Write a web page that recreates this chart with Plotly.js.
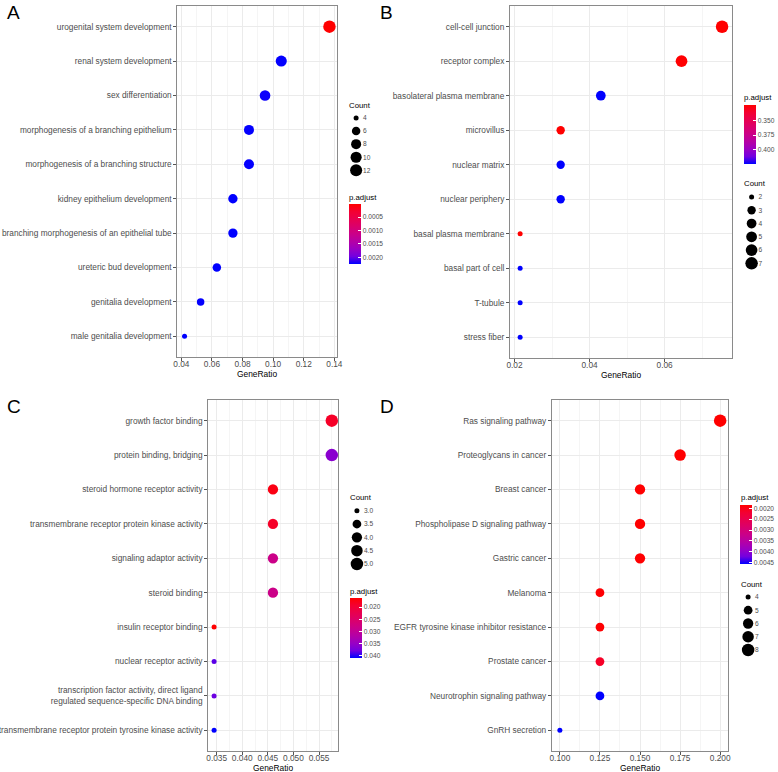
<!DOCTYPE html>
<html>
<head>
<meta charset="utf-8">
<script src="https://cdn.plot.ly/plotly-3.0.1.min.js"></script>
<style>html,body{margin:0;padding:0;background:#fff}</style>
</head>
<body>
<div id="plotArea" style="width:778px;height:772px"></div>
<script>
// A - biological process
var termsA = ['urogenital system development', 'renal system development', 'sex differentiation',
  'morphogenesis of a branching epithelium', 'morphogenesis of a branching structure',
  'kidney epithelium development', 'branching morphogenesis of an epithelial tube',
  'ureteric bud development', 'genitalia development', 'male genitalia development'];
var ratioA = [0.1368, 0.1053, 0.0947, 0.0842, 0.0842, 0.0737, 0.0737, 0.0632, 0.0526, 0.0421];
var countA = [13, 10, 9, 8, 8, 7, 7, 6, 5, 4];
var padjA = [0.00001, 0.00224, 0.00222, 0.00224, 0.00224, 0.00225, 0.00225, 0.00225, 0.00224, 0.00225];
var countTicksA = [4, 6, 8, 10, 12];
var padjTicksA = [0.0005, 0.0010, 0.0015, 0.0020];
var padjLabelsA = ['0.0005', '0.0010', '0.0015', '0.0020'];

// B - cellular component
var termsB = ['cell-cell junction', 'receptor complex', 'basolateral plasma membrane', 'microvillus',
  'nuclear matrix', 'nuclear periphery', 'basal plasma membrane', 'basal part of cell',
  'T-tubule', 'stress fiber'];
var ratioB = [0.0753, 0.0645, 0.0430, 0.0323, 0.0323, 0.0323, 0.0215, 0.0215, 0.0215, 0.0215];
var countB = [7, 6, 4, 3, 3, 3, 2, 2, 2, 2];
var padjB = [0.3245, 0.3250, 0.4248, 0.3246, 0.4248, 0.4248, 0.3245, 0.4248, 0.4248, 0.4248];
var countTicksB = [2, 3, 4, 5, 6, 7];
var padjTicksB = [0.350, 0.375, 0.400];
var padjLabelsB = ['0.350', '0.375', '0.400'];

// C - molecular function
var termsC = ['growth factor binding', 'protein binding, bridging', 'steroid hormone receptor activity',
  'transmembrane receptor protein kinase activity', 'signaling adaptor activity', 'steroid binding',
  'insulin receptor binding', 'nuclear receptor activity',
  'transcription factor activity, direct ligand<br>regulated sequence-specific DNA binding',
  'transmembrane receptor protein tyrosine kinase activity'];
var ratioC = [0.0575, 0.0575, 0.0460, 0.0460, 0.0460, 0.0460, 0.0345, 0.0345, 0.0345, 0.0345];
var countC = [5, 5, 4, 4, 4, 4, 3, 3, 3, 3];
var padjC = [0.0188, 0.0360, 0.0175, 0.0188, 0.0285, 0.0285, 0.0163, 0.0385, 0.0380, 0.0409];
var countTicksC = ['3.0', '3.5', '4.0', '4.5', '5.0'];
var padjTicksC = [0.020, 0.025, 0.030, 0.035, 0.040];
var padjLabelsC = ['0.020', '0.025', '0.030', '0.035', '0.040'];

// D - KEGG
var termsD = ['Ras signaling pathway', 'Proteoglycans in cancer', 'Breast cancer',
  'Phospholipase D signaling pathway', 'Gastric cancer', 'Melanoma',
  'EGFR tyrosine kinase inhibitor resistance', 'Prostate cancer',
  'Neurotrophin signaling pathway', 'GnRH secretion'];
var ratioD = [0.200, 0.175, 0.150, 0.150, 0.150, 0.125, 0.125, 0.125, 0.125, 0.100];
var countD = [8, 7, 6, 6, 6, 5, 5, 5, 5, 4];
var padjD = [0.00186, 0.00187, 0.00187, 0.00187, 0.00187, 0.00188, 0.00188, 0.00213, 0.00458, 0.00458];
var countTicksD = [4, 5, 6, 7, 8];
var padjTicksD = [0.0020, 0.0025, 0.0030, 0.0035, 0.0040, 0.0045];
var padjLabelsD = ['0.0020', '0.0025', '0.0030', '0.0035', '0.0040', '0.0045'];

// red -> blue, roughly the Lab blend ggplot uses (values are negated so red sits on top)
var padjScale = [[0, 'rgb(0,0,255)'], [0.125, 'rgb(115,0,224)'], [0.25, 'rgb(154,0,195)'],
  [0.375, 'rgb(181,0,165)'], [0.5, 'rgb(202,0,137)'], [0.625, 'rgb(218,0,108)'],
  [0.75, 'rgb(232,0,79)'], [0.875, 'rgb(244,0,49)'], [1, 'rgb(255,0,0)']];

var W = 778, H = 772;
function px(x) { return x / W; }
function py(y) { return 1 - y / H; }

function sizeScale(c, lo, hi) {
  return 5 + 7.5 * Math.sqrt((c - lo) / (hi - lo));
}

var FONT = 'Liberation Sans, Arial, sans-serif';
var traces = [];
var layout = {
  width: W, height: H,
  margin: {l: 0, r: 0, t: 0, b: 0},
  paper_bgcolor: '#fff', plot_bgcolor: '#fff',
  font: {family: FONT, color: '#000'},
  showlegend: false,
  annotations: []
};

function note(text, x, y, size, xanchor, yanchor) {
  layout.annotations.push({text: text, x: px(x), y: py(y), xref: 'paper', yref: 'paper',
    xanchor: xanchor, yanchor: yanchor, showarrow: false, borderpad: 0,
    font: {size: size, color: '#000'}});
}

function addPanel(n, letter, terms, ratio, count, padj, countTicks, padjTicks, padjLabels, opt) {
  var lo = Math.min.apply(null, count), hi = Math.max.apply(null, count);
  var pmin = Math.min.apply(null, padj), pmax = Math.max.apply(null, padj);
  var rmin = Math.min.apply(null, ratio), rmax = Math.max.apply(null, ratio);
  var span = rmax - rmin;
  var s = n == 1 ? '' : String(n);
  var m = String(n + 4);

  traces.push({
    type: 'scatter', mode: 'markers', x: ratio, y: terms,
    xaxis: 'x' + s, yaxis: 'y' + s, hoverinfo: 'skip', cliponaxis: false,
    marker: {
      size: count.map(function(c) { return sizeScale(c, lo, hi); }),
      color: padj.map(function(p) { return -p; }),
      cmin: -pmax, cmax: -pmin, colorscale: padjScale,
      line: {width: 0}, opacity: 1, showscale: true,
      colorbar: {
        x: px(opt.bar[0]), xanchor: 'left', y: py(opt.bar[1]), yanchor: 'top',
        len: opt.bar[2] - opt.bar[1], lenmode: 'pixels', thickness: 12, thicknessmode: 'pixels',
        xpad: 0, ypad: 0, outlinewidth: 0,
        tickvals: padjTicks.map(function(v) { return -v; }), ticktext: padjLabels,
        ticks: 'inside', ticklen: 3, tickcolor: '#fff', tickwidth: 1,
        tickfont: {size: 6.6, color: '#4d4d4d', family: FONT}
      }
    }
  });

  // size key
  traces.push({
    type: 'scatter', mode: 'markers',
    x: countTicks.map(function() { return 0; }), y: countTicks.map(String),
    xaxis: 'x' + m, yaxis: 'y' + m, hoverinfo: 'skip', cliponaxis: false,
    marker: {size: countTicks.map(function(c) { return sizeScale(+c, lo, hi); }),
      color: '#000', opacity: 1, line: {width: 0}}
  });

  layout['xaxis' + s] = {
    domain: [px(opt.box[0]), px(opt.box[1])], anchor: 'y' + s,
    range: [rmin - 0.05 * span, rmax + 0.05 * span],
    tick0: 0, dtick: opt.dtick, tickformat: opt.fmt,
    showline: true, mirror: true, linecolor: '#8a8a8a', linewidth: 1,
    ticks: 'outside', ticklen: 3, tickcolor: '#555', tickwidth: 1,
    ticklabelstandoff: -4,
    tickfont: {size: 8.3, color: '#4d4d4d'},
    showgrid: true, gridcolor: '#ebebeb', gridwidth: 1, zeroline: false,
    minor: {dtick: opt.dtick / 2, showgrid: true, gridcolor: '#f5f5f5', gridwidth: 1}
  };
  layout['yaxis' + s] = {
    domain: [py(opt.box[3]), py(opt.box[2])], anchor: 'x' + s,
    type: 'category', categoryorder: 'array', categoryarray: terms,
    range: [terms.length - 0.4, -0.6],
    showline: true, mirror: true, linecolor: '#8a8a8a', linewidth: 1,
    ticks: 'outside', ticklen: 3, tickcolor: '#555', tickwidth: 1,
    tickfont: {size: 8.3, color: '#4d4d4d'},
    showgrid: true, gridcolor: '#ebebeb', gridwidth: 1, zeroline: false
  };

  layout['xaxis' + m] = {
    domain: [px(opt.key[0] - 6), px(opt.key[0] + 6)], anchor: 'y' + m,
    range: [-1, 1], visible: false
  };
  var step = (opt.key[2] - opt.key[1]) / (countTicks.length - 1);
  layout['yaxis' + m] = {
    domain: [py(opt.key[2] + step / 2), py(opt.key[1] - step / 2)], anchor: 'x' + m,
    type: 'category', categoryorder: 'array', categoryarray: countTicks.map(String),
    range: [countTicks.length - 0.5, -0.5], side: 'right',
    showgrid: false, showline: false, zeroline: false, ticks: '',
    tickfont: {size: 6.6, color: '#4d4d4d'}
  };

  note(letter, opt.letter[0], opt.letter[1], 19, 'left', 'top');
  note('GeneRatio', (opt.box[0] + opt.box[1]) / 2, opt.box[3] + 17, 8.4, 'center', 'middle');
  note('Count', opt.countTitle[0], opt.countTitle[1], 7.8, 'left', 'middle');
  note('p.adjust', opt.padjTitle[0], opt.padjTitle[1], 7.8, 'left', 'middle');
}

addPanel(1, 'A', termsA, ratioA, countA, padjA, countTicksA, padjTicksA, padjLabelsA, {
  box: [178, 338, 6, 357], dtick: 0.02, fmt: '.2f',
  bar: [350, 204, 264], key: [357.5, 118, 170.3],
  countTitle: [349, 105], padjTitle: [349, 197], letter: [6, 1]
});
addPanel(2, 'B', termsB, ratioB, countB, padjB, countTicksB, padjTicksB, padjLabelsB, {
  box: [512, 735, 6, 358], dtick: 0.02, fmt: '.2f',
  bar: [747, 105.3, 164.3], key: [754.5, 197, 263.3],
  countTitle: [746, 184], padjTitle: [746, 97.7], letter: [380, 1]
});
addPanel(3, 'C', termsC, ratioC, countC, padjC, countTicksC, padjTicksC, padjLabelsC, {
  box: [209, 339, 400, 751], dtick: 0.005, fmt: '.3f',
  bar: [351, 598, 658], key: [358.3, 510.7, 564],
  countTitle: [350, 498], padjTitle: [350, 591], letter: [6, 395]
});
addPanel(4, 'D', termsD, ratioD, countD, padjD, countTicksD, padjTicksD, padjLabelsD, {
  box: [554, 731, 400, 751], dtick: 0.025, fmt: '.3f',
  bar: [743.3, 505.3, 564.7], key: [751, 597, 650],
  countTitle: [742.5, 584], padjTitle: [742.5, 498], letter: [380, 395]
});

Plotly.newPlot('plotArea', traces, layout, {staticPlot: true, displayModeBar: false});
</script>
</body>
</html>
